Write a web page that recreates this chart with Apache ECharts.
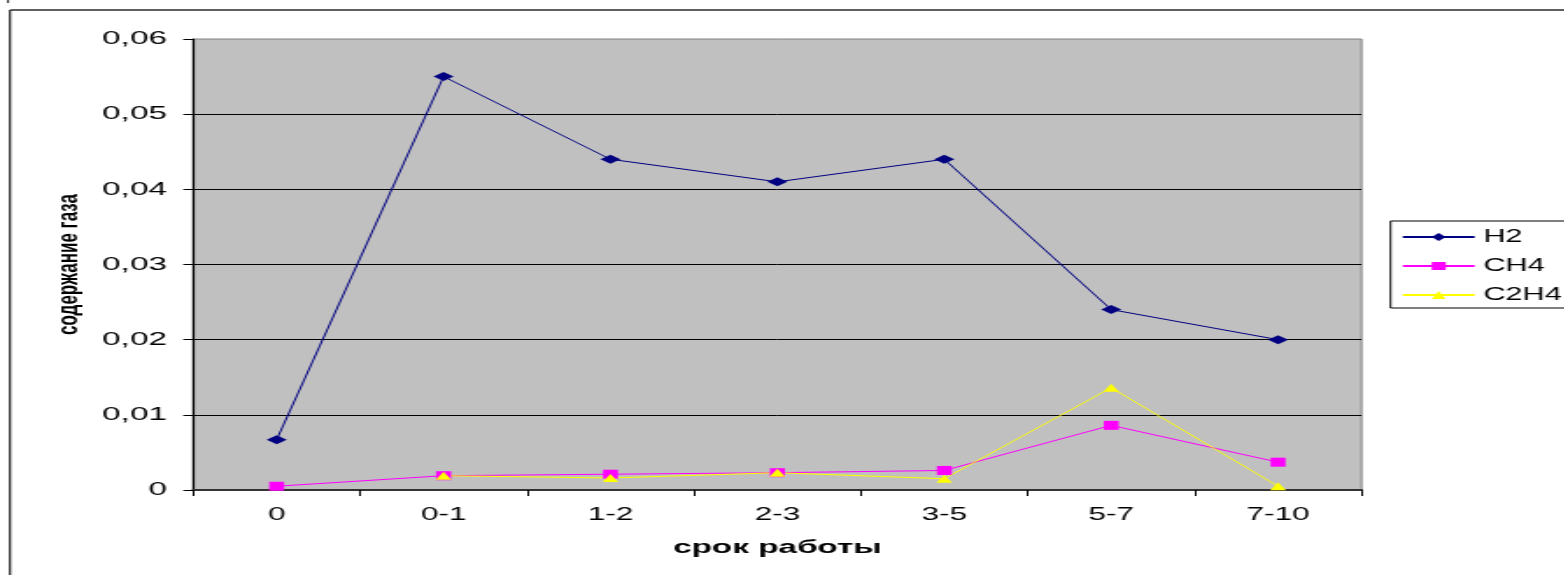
<!DOCTYPE html>
<html>
<head>
<meta charset="utf-8">
<script src="https://cdn.jsdelivr.net/npm/echarts@6/dist/echarts.min.js"></script>
<style>
  html, body { margin: 0; padding: 0; background: #fff; overflow: hidden; }
  #chart { position: absolute; left: 0; top: 0; height: 575px; transform-origin: 0 0; }
</style>
</head>
<body>
<div id="chart"></div>
<script>
// Gas content by service period
const categories = ['0', '0-1', '1-2', '2-3', '3-5', '5-7', '7-10'];
const h2Values   = [0.0067, 0.055, 0.044, 0.041, 0.044, 0.024, 0.020];
const ch4Values  = [0.0005, 0.0019, 0.0021, 0.0023, 0.0026, 0.0086, 0.0037];
const c2h4Values = [null, 0.0019, 0.0016, 0.0023, 0.0015, 0.0136, 0.0005];
const yTickLabels = ['0', '0,01', '0,02', '0,03', '0,04', '0,05', '0,06'];
const seriesNames = ['H2', 'CH4', 'C2H4'];
const xTitle = 'срок работы';
const yTitle = 'содержание газа';

// The chart is laid out narrow and widened horizontally (wide glyphs and markers).
const SX = 1.75;
const W = 1564 / SX;
const H = 575;
const el = document.getElementById('chart');
el.style.width = W + 'px';
el.style.transform = 'scaleX(' + SX + ')';

const FONT = "'Liberation Sans', Arial, sans-serif";
const chart = echarts.init(el, null, { renderer: 'canvas', width: W, height: H });

const plotLeft = 193 / SX;
const plotRight = 1360 / SX;

function lineSeries(name, data, color, symbol, size) {
  return {
    name: name,
    type: 'line',
    data: data,
    symbol: symbol,
    symbolSize: size,
    showSymbol: true,
    connectNulls: false,
    lineStyle: { color: color, width: 1 },
    itemStyle: { color: color },
    emphasis: { disabled: true },
    animation: false
  };
}

chart.setOption({
  animation: false,
  textStyle: { fontFamily: FONT, color: '#000' },
  grid: {
    left: plotLeft,
    right: W - plotRight,
    top: 39,
    bottom: H - 490,
    show: true,
    backgroundColor: '#c0c0c0',
    borderColor: '#808080',
    borderWidth: 1
  },
  legend: {
    orient: 'vertical',
    left: 1389 / SX,
    top: 221,
    padding: [7, 20, 4, 6],
    itemWidth: 41,
    itemHeight: 10,
    itemGap: 11,
    borderColor: '#000',
    borderWidth: 1,
    backgroundColor: '#fff',
    data: seriesNames,
    textStyle: { fontFamily: FONT, fontSize: 17.5, color: '#000' }
  },
  xAxis: {
    type: 'category',
    data: categories,
    boundaryGap: true,
    axisLine: { show: true, lineStyle: { color: '#333', width: 2 } },
    axisTick: { show: true, length: 6, lineStyle: { color: '#000', width: 1 } },
    axisLabel: { color: '#000', fontFamily: FONT, fontSize: 18, margin: 16 },
    splitLine: { show: false },
    name: xTitle,
    nameLocation: 'middle',
    nameGap: 48,
    nameTextStyle: { fontFamily: FONT, fontSize: 19, fontWeight: 'bold', color: '#000' }
  },
  yAxis: {
    type: 'value',
    min: 0,
    max: 0.06,
    interval: 0.01,
    axisLine: { show: true, lineStyle: { color: '#000', width: 1.2 } },
    axisTick: { show: true, length: 5.7, lineStyle: { color: '#000', width: 1 } },
    axisLabel: {
      color: '#000', fontFamily: FONT, fontSize: 19, margin: 15,
      formatter: function (v) { return yTickLabels[Math.round(v / 0.01)]; }
    },
    splitLine: { show: true, showMaxLine: false, lineStyle: { color: '#000', width: 1 } },
    name: yTitle,
    nameLocation: 'middle',
    nameRotate: 90,
    nameGap: 60,
    nameTextStyle: { fontFamily: FONT, fontSize: 17, fontWeight: 'bold', color: '#000' }
  },
  graphic: [
    { type: 'line', silent: true, shape: { x1: 5.7, y1: 10, x2: W, y2: 10 }, style: { stroke: '#606060', lineWidth: 2 } },
    { type: 'line', silent: true, shape: { x1: 5.7, y1: 10, x2: 5.7, y2: H }, style: { stroke: '#202020', lineWidth: 1.2 } },
    { type: 'line', silent: true, shape: { x1: 4.6, y1: 0, x2: 4.6, y2: 3 }, style: { stroke: '#202020', lineWidth: 1 } }
  ],
  series: [
    lineSeries(seriesNames[0], h2Values, '#000080', 'diamond', [11.5, 9]),
    lineSeries(seriesNames[1], ch4Values, '#ff00ff', 'rect', [8.5, 9]),
    lineSeries(seriesNames[2], c2h4Values, '#ffff00', 'triangle', [9, 8])
  ]
});
</script>
</body>
</html>
